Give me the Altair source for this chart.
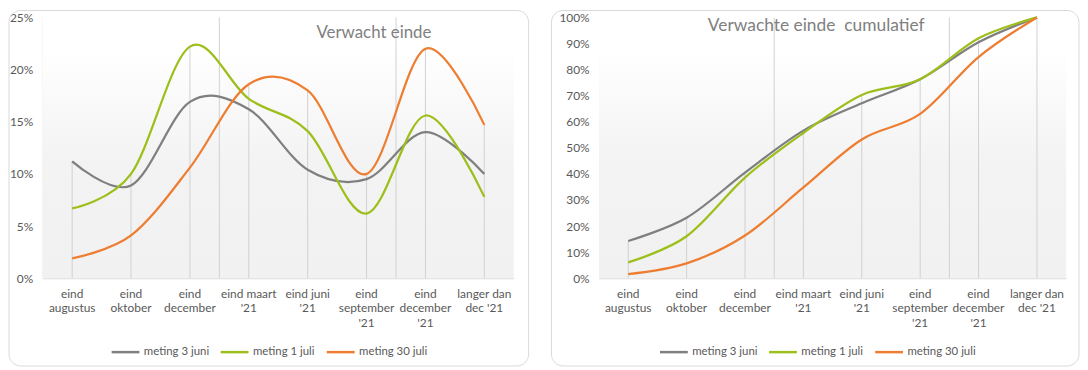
import altair as alt
import pandas as pd

categories = ["eind\naugustus", "eind\noktober", "eind\ndecember", "eind maart\n'21",
              "eind juni\n'21", "eind\nseptember\n'21", "eind\ndecember\n'21", "langer dan\ndec '21"]
series = ["meting 3 juni", "meting 1 juli", "meting 30 juli"]
colors = ["#7f7f7f", "#9dbf1b", "#ed7d31"]

# Verwacht einde (%)
einde_3juni = [11.2, 8.9, 16.9, 16.2, 10.4, 9.5, 14.0, 10.0]
einde_1juli = [6.7, 10.0, 22.2, 17.2, 14.1, 6.2, 15.6, 7.8]
einde_30juli = [1.9, 4.1, 10.6, 18.6, 18.0, 10.0, 22.0, 14.7]

# Verwachte einde cumulatief (%)
cum_3juni = [14.3, 23.2, 40.5, 56.6, 67.1, 76.3, 90.5, 100.0]
cum_1juli = [6.1, 16.1, 38.6, 55.7, 70.3, 76.3, 92.0, 100.0]
cum_30juli = [1.6, 5.7, 16.4, 34.8, 53.2, 63.0, 84.8, 100.0]

grid_cats = ["eind maart\n'21", "eind\ndecember\n'21"]

FONT = "Lato"
LABEL_COLOR = "#595959"


def long_df(vals_list):
    rows = []
    for i, (s, vals) in enumerate(zip(series, vals_list)):
        for c, v in zip(categories, vals):
            rows.append({"cat": c, "serie": s, "value": v / 100, "serie_order": i})
    return pd.DataFrame(rows)


def panel(df, w, h, ymax, ystep, title, tsize, tx, ty, border, lx, ly):
    x_scale = alt.Scale(type="band", domain=categories, paddingInner=0, paddingOuter=0)
    x_axis = alt.Axis(title=None, labelAngle=0, labelExpr="split(datum.label, '\\n')",
                      labelFontSize=12, labelFont=FONT, labelColor=LABEL_COLOR,
                      labelLineHeight=15, labelPadding=10, ticks=False,
                      domainColor="#d9d9d9", grid=False, labelOverlap=False,
                      labelBound=False, labelLimit=300)
    yvals = [round(i * ystep, 4) for i in range(int(round(ymax / ystep)) + 1)]
    y_scale = alt.Scale(domain=[0, ymax], nice=False)
    y_axis = alt.Axis(title=None, values=yvals, format=".0%", labelFontSize=12,
                      labelFont=FONT, labelColor=LABEL_COLOR, labelPadding=10,
                      ticks=False, domainColor="#d9d9d9", grid=False)

    bg = alt.Chart(alt.Data(values=[{"a": 1}])).mark_rect(
        fill=alt.Gradient(gradient="linear",
                          stops=[alt.GradientStop(color="#ffffff", offset=0),
                                 alt.GradientStop(color="#ffffff", offset=0.12),
                                 alt.GradientStop(color="#f3f3f3", offset=0.55),
                                 alt.GradientStop(color="#f1f1f1", offset=1)],
                          x1=0, x2=0, y1=0, y2=1)
    ).encode(x=alt.value(0), x2=alt.value("width"), y=alt.value(0), y2=alt.value("height"))

    grid = alt.Chart(pd.DataFrame({"cat": grid_cats})).mark_rule(
        color="#d0d0d0", strokeWidth=1
    ).encode(
        x=alt.X("cat:N", scale=x_scale, axis=x_axis, bandPosition=0),
        y=alt.value(0), y2=alt.value("height"))

    drops = alt.Chart(df).transform_aggregate(
        vmax="max(value)", groupby=["cat"]
    ).mark_rule(color="#d0d0d0", strokeWidth=1).encode(
        x=alt.X("cat:N", scale=x_scale, axis=x_axis, bandPosition=0.5),
        y=alt.Y("vmax:Q", scale=y_scale, axis=y_axis),
        y2=alt.datum(0))

    lines = alt.Chart(df).mark_line(interpolate="cardinal", strokeWidth=2.25).encode(
        x=alt.X("cat:N", scale=x_scale, axis=x_axis, bandPosition=0.5),
        y=alt.Y("value:Q", scale=y_scale, axis=y_axis),
        color=alt.Color("serie:N", scale=alt.Scale(domain=series, range=colors),
                        legend=alt.Legend(title=None, orient="none", legendX=lx, legendY=ly,
                                          direction="horizontal", symbolType="stroke",
                                          symbolSize=784, symbolStrokeWidth=2.5,
                                          labelFontSize=11.5, labelFont=FONT,
                                          labelColor=LABEL_COLOR, labelOffset=3,
                                          columnPadding=6, padding=0)),
        order=alt.Order("serie_order:Q"))

    ttl = alt.Chart(alt.Data(values=[{"t": title}])).mark_text(
        font=FONT, fontSize=tsize, color="#808080", align="center", baseline="alphabetic"
    ).encode(x=alt.value(tx), y=alt.value(ty), text="t:N")

    bx, bx2, by, by2 = border
    frame = alt.Chart(alt.Data(values=[{"a": 1}])).mark_rect(
        fillOpacity=0, stroke="#d9d9d9", strokeWidth=1, cornerRadius=12, clip=False
    ).encode(x=alt.value(bx), x2=alt.value(bx2), y=alt.value(by), y2=alt.value(by2))

    return alt.layer(bg, grid, drops, lines, ttl, frame).properties(width=w, height=h)


df1 = long_df([einde_3juni, einde_1juli, einde_30juli])
df2 = long_df([cum_3juni, cum_1juli, cum_30juli])

left = panel(df1, 475, 263, 0.25, 0.05, "Verwacht einde", 17, 334, 20.5,
             (-34, 490, -7, 351.5), 68, 322)
right = panel(df2, 471, 263, 1.0, 0.1, "Verwachte einde\u00a0 cumulatief", 17.5, 219, 13.5,
              (-48, 484, -7, 351.5), 60, 322)

chart = alt.hconcat(left, right, spacing=21).resolve_scale(
    color="independent", x="independent", y="independent"
).properties(padding=0, background="white").configure_view(stroke=None)

chart.save("out.html", embed_options={"renderer": "svg", "actions": False})
